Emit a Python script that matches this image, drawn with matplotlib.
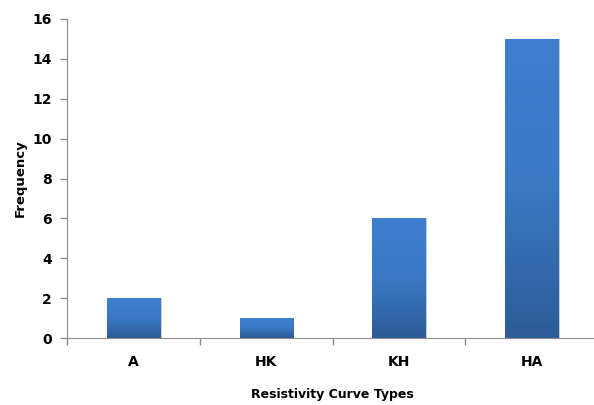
import matplotlib
matplotlib.use('Agg')
import matplotlib.pyplot as plt
import numpy as np
from matplotlib.colors import LinearSegmentedColormap

curve_types = ['A', 'HK', 'KH', 'HA']
frequency = [2, 1, 6, 15]

fig = plt.figure(figsize=(5.94, 4.05), dpi=100)
ax = fig.add_axes([67 / 594, 67 / 405, 531 / 594, 319 / 405])

x = np.arange(len(curve_types))
bars = ax.bar(x, frequency, width=0.4, color='none', edgecolor='none', zorder=2)

# vertical gradient fill, light on top and darker at the bottom
grad = LinearSegmentedColormap.from_list('bar', ['#2d5c97', '#3a78c4', '#3e80cf'])
gimg = np.linspace(0, 1, 256).reshape(-1, 1)
for b in bars:
    x0, w, h = b.get_x(), b.get_width(), b.get_height()
    im = ax.imshow(gimg, cmap=grad, aspect='auto', origin='lower',
                   extent=[x0, x0 + w, 0, h], zorder=2)
    im.set_clip_path(b)
    # faint shadow on the right
    ax.bar(x0 + w / 2 + 0.012, h, width=w, color='#c8ccd4', zorder=1, edgecolor='none')

ax.set_xlim(-0.5, len(curve_types) - 0.5)
ax.set_ylim(0, 16)
ax.set_yticks(range(0, 17, 2))
ax.set_xticks(x)
ax.set_xticks(np.arange(-0.5, len(curve_types), 1.0), minor=True)
ax.set_xticklabels(curve_types, fontsize=10, fontweight='bold')
for lbl in ax.get_yticklabels():
    lbl.set_fontsize(10)
    lbl.set_fontweight('bold')

ax.tick_params(axis='x', which='major', length=0, pad=12)
ax.tick_params(axis='x', which='minor', length=5, color='#8c8c8c', width=1)
ax.tick_params(axis='y', length=5, color='#8c8c8c', width=1, pad=6)

for side in ['top', 'right']:
    ax.spines[side].set_visible(False)
ax.spines['left'].set_color('#8c8c8c')
ax.spines['bottom'].set_color('#8c8c8c')

ax.set_xlabel('Resistivity Curve Types', fontsize=9, fontweight='bold', labelpad=14)
ax.set_ylabel('Frequency', fontsize=9.5, fontweight='bold', labelpad=4)

fig.savefig('out.png', dpi=100)
